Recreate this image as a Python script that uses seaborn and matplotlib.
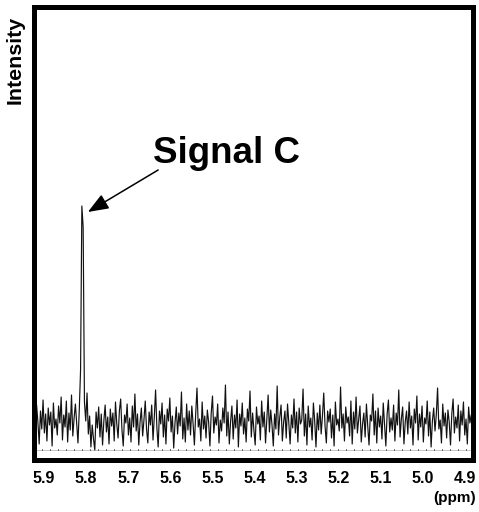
import numpy as np
import matplotlib
matplotlib.use("Agg")
import matplotlib.pyplot as plt
import seaborn as sns
import pandas as pd

# ---- data ----
ppm_start = 5.924
ppm_end = 4.882
intensity = [
    3.4, 1.2, 4.5, 2.8, 0.6, 3.9, 2.1, 5.0, 1.7, 3.6, 0.9, 4.2, 2.5, 3.8, 0.4, 4.7, 2.2, 3.1, 1.5, 4.4,
    2.7, 5.3, 1.0, 3.5, 2.3, 4.9, 0.8, 3.7, 2.0, 5.5, 1.4, 3.2, 4.6, 2.6, 0.7, 4.0, 8.0, 24.4, 22.3, 4.8,
    2.9, 5.7, 1.6, 3.4, 0.3, 2.5, 1.1, 0.0, 3.8, 2.2, 4.3, 1.3, 3.6, 0.5, 2.9, 4.5, 1.8, 3.3, 0.6, 4.1,
    2.4, 3.7, 0.9, 4.8, 2.6, 1.2, 3.9, 5.1, 2.0, 0.4, 3.5, 2.7, 4.6, 1.5, 3.2, 0.8, 4.4, 2.3, 5.6, 1.9,
    3.6, 0.5, 2.8, 4.2, 1.4, 3.0, 4.9, 2.1, 0.7, 3.8, 2.5, 4.5, 1.0, 3.3, 6.0, 2.2, 0.3, 3.9, 2.6, 4.7,
    1.3, 3.5, 0.6, 4.1, 2.9, 5.2, 1.8, 3.4, 0.2, 2.7, 4.3, 1.6, 3.7, 2.4, 5.8, 1.1, 3.2, 0.8, 4.6, 2.0,
    3.9, 1.5, 4.4, 2.6, 0.5, 3.6, 6.2, 2.3, 3.1, 0.9, 4.8, 2.1, 3.4, 1.2, 4.0, 2.8, 0.4, 3.7, 5.4, 1.7,
    3.3, 2.5, 4.6, 0.7, 3.0, 1.9, 4.2, 2.7, 6.5, 1.4, 3.8, 0.6, 2.9, 4.4, 1.1, 3.5, 2.2, 5.0, 0.3, 3.6,
    2.4, 4.7, 1.6, 3.2, 0.8, 4.1, 2.9, 5.9, 1.3, 3.7, 2.0, 0.5, 4.3, 2.6, 3.4, 1.0, 4.9, 2.3, 3.8, 0.7,
    3.1, 5.5, 1.8, 4.0, 2.5, 0.4, 3.6, 2.1, 6.4, 1.5, 3.3, 4.5, 0.9, 2.8, 3.9, 1.2, 4.6, 2.7, 0.6, 3.5,
    2.2, 5.1, 1.7, 3.8, 0.8, 4.2, 2.6, 3.0, 6.1, 1.4, 3.6, 0.5, 4.4, 2.3, 3.2, 1.0, 4.7, 2.9, 0.3, 3.7,
    2.0, 4.5, 1.6, 3.4, 5.7, 2.4, 0.7, 3.9, 2.8, 4.1, 1.2, 3.5, 0.4, 4.8, 2.5, 3.1, 1.9, 6.3, 2.2, 3.6,
    0.9, 4.3, 2.7, 3.3, 1.4, 4.9, 0.6, 3.8, 2.1, 5.3, 1.7, 3.0, 4.4, 0.8, 2.6, 3.7, 1.3, 4.6, 2.4, 0.5,
    3.5, 2.9, 5.6, 1.5, 3.9, 0.7, 4.2, 2.3, 3.4, 1.1, 4.7, 2.6, 0.4, 3.6, 5.0, 1.8, 3.2, 2.0, 4.5, 0.9,
    3.7, 2.5, 6.0, 1.3, 3.1, 4.3, 0.6, 2.8, 3.9, 1.6, 4.8, 2.2, 3.4, 0.5, 4.1, 2.7, 5.4, 1.0, 3.6, 2.3,
    4.4, 0.8, 3.2, 2.6, 4.9, 1.4, 3.8, 0.3, 2.9, 4.2, 1.9, 3.5, 6.2, 2.1, 3.0, 0.7, 4.6, 2.4, 3.7, 1.2,
    4.0, 2.8, 0.5, 3.6, 5.1, 1.7, 3.3, 2.2, 4.5, 0.9, 3.9, 2.5, 4.8, 1.5, 3.1, 0.6, 4.3, 2.7, 3.5, 2.0,
]
tick_values = [5.9, 5.8, 5.7, 5.6, 5.5, 5.4, 5.3, 5.2, 5.1, 5.0, 4.9]
tick_labels = ["5.9", "5.8", "5.7", "5.6", "5.5", "5.4", "5.3", "5.2", "5.1", "5.0", "4.9"]
peak_tip = (5.796, 23.8)
arrow_tail = (5.629, 28.0)
label_text = "Signal C"
label_pos = (5.466, 28.7)

ppm = np.linspace(ppm_start, ppm_end, len(intensity))
df = pd.DataFrame({"ppm": ppm, "intensity": intensity})

# ---- style ----
sns.set_theme(style="white")
plt.rcParams["font.family"] = ["Liberation Sans", "DejaVu Sans"]
plt.rcParams["font.weight"] = "bold"
plt.rcParams["text.color"] = "black"
plt.rcParams["xtick.color"] = "black"

fig = plt.figure(figsize=(4.79, 5.12), dpi=100)
ax = fig.add_axes([34 / 479, 1 - 459.5 / 512, (472.5 - 34) / 479, (459.5 - 6.5) / 512])

# baseline
ax.axhline(0, color="#bbbbbb", lw=0.6, zorder=1)
ax.axhline(0, color="#555555", lw=1.2, linestyle=(0, (0.6, 4.2)), zorder=1)

sns.lineplot(data=df, x="ppm", y="intensity", ax=ax, color="#111111",
             lw=0.85, estimator=None, sort=False, zorder=2)

ax.set_xlim(ppm_start, ppm_end)
ax.set_ylim(-0.95, 44.35)
ax.set_xticks(tick_values)
ax.set_xticklabels(tick_labels, fontsize=11.5, fontweight="bold", color="black")
ax.set_yticks([])
ax.tick_params(axis="x", length=0, pad=8, colors="black")
ax.set_xlabel("")
ax.set_ylabel("")

for s in ax.spines.values():
    s.set_visible(True)
    s.set_color("black")
    s.set_linewidth(3.6)

ax.annotate("", xy=peak_tip, xytext=arrow_tail,
            arrowprops=dict(arrowstyle="-|>,head_length=0.9,head_width=0.35",
                            mutation_scale=14, color="black", lw=1.1,
                            shrinkA=0, shrinkB=0))
ax.text(label_pos[0], label_pos[1], label_text, fontsize=26.5, fontweight="bold",
        ha="center", va="baseline", color="black")

fig.text(15 / 479, 1 - 60 / 512, "Intensity", rotation=90, fontsize=15.4,
         fontweight="bold", ha="center", va="center", color="black")
fig.text(476 / 479, 1 - 498 / 512, "(ppm)", fontsize=11, fontweight="bold",
         ha="right", va="center", color="black")

fig.savefig("out.png", dpi=100)
